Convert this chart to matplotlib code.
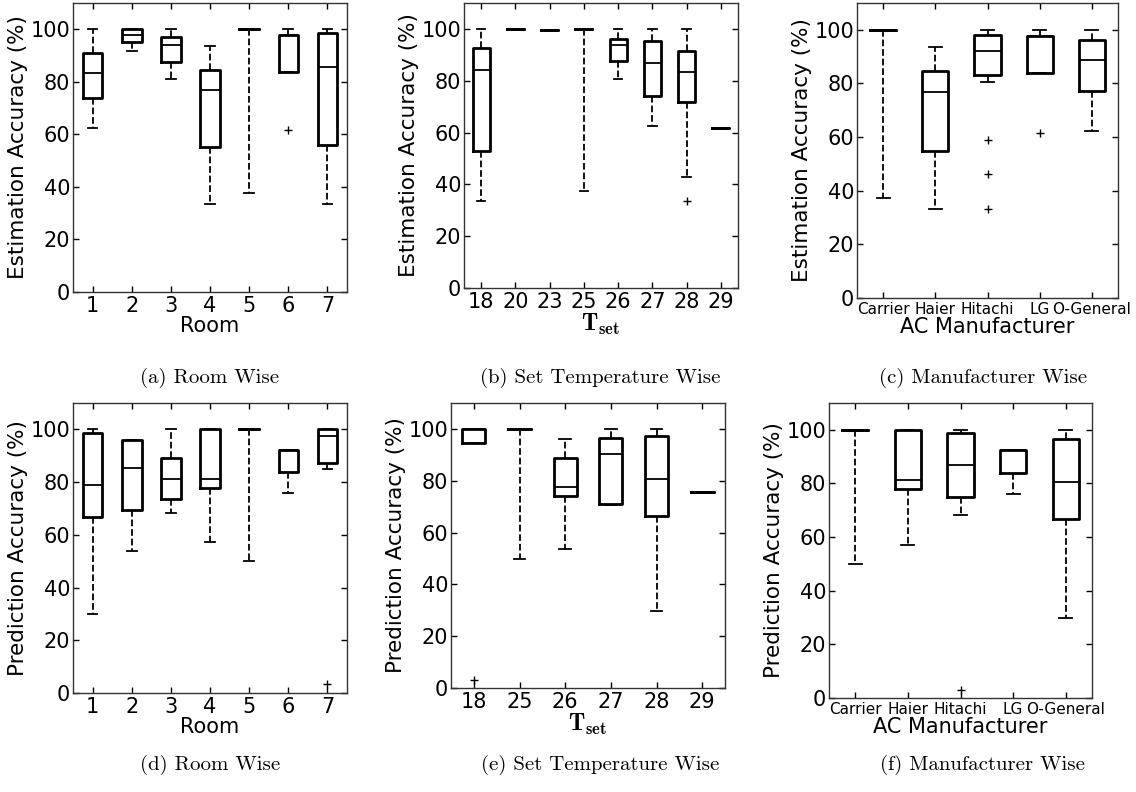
import matplotlib
matplotlib.use('Agg')
import matplotlib.pyplot as plt

plt.rcParams['mathtext.fontset'] = 'cm'
plt.rcParams['font.family'] = ['DejaVu Sans']

# ---- 数据 ----
rooms = ['1', '2', '3', '4', '5', '6', '7']
tsets_est = ['18', '20', '23', '25', '26', '27', '28', '29']
tsets_pred = ['18', '25', '26', '27', '28', '29']
makers = ['Carrier', 'Haier', 'Hitachi', 'LG', 'O-General']

# (a) Room wise - estimation
a_whislo = [62.5, 91.9, 80.9, 33.4, 37.6, 83.9, 33.4]
a_q1 = [73.9, 95.2, 87.6, 55.1, 100, 83.9, 55.9]
a_med = [83.2, 98.0, 94.2, 77.0, 100, 97.8, 85.7]
a_q3 = [91.1, 100, 97.0, 84.6, 100, 97.8, 98.6]
a_whishi = [100, 100, 100, 93.7, 100, 100, 100]
a_fliers = [[], [], [], [], [], [61.6], []]

# (b) Set temperature wise - estimation
b_whislo = [33.4, 100, 99.4, 37.6, 80.7, 62.5, 43.0, 61.7]
b_q1 = [52.9, 100, 99.4, 100, 87.7, 74.1, 71.9, 61.7]
b_med = [84.2, 100, 99.4, 100, 93.6, 86.9, 83.4, 61.7]
b_q3 = [92.7, 100, 99.4, 100, 96.0, 95.5, 91.4, 61.7]
b_whishi = [100, 100, 99.4, 100, 100, 100, 100, 61.7]
b_fliers = [[], [], [], [], [], [], [33.4], []]

# (c) Manufacturer wise - estimation
c_whislo = [37.4, 33.3, 80.7, 84.0, 62.4]
c_q1 = [100, 54.9, 83.1, 84.0, 77.3]
c_med = [100, 77.0, 92.0, 97.8, 88.6]
c_q3 = [100, 84.5, 98.0, 97.8, 96.3]
c_whishi = [100, 93.7, 100, 100, 100]
c_fliers = [[], [], [59.0, 46.3, 33.2], [61.6], []]

# (d) Room wise - prediction
d_whislo = [29.9, 53.7, 68.4, 57.1, 50.0, 75.8, 84.8]
d_q1 = [66.8, 69.6, 73.6, 77.8, 100, 84.0, 87.2]
d_med = [78.9, 85.4, 81.1, 81.2, 100, 92.2, 97.3]
d_q3 = [98.5, 96.0, 89.3, 100, 100, 92.2, 100]
d_whishi = [100, 96.0, 100, 100, 100, 92.2, 100]
d_fliers = [[], [], [], [], [], [], [3.4]]

# (e) Set temperature wise - prediction
e_whislo = [94.7, 49.9, 53.5, 70.6, 29.9, 75.7]
e_q1 = [94.7, 100, 74.2, 71.2, 66.5, 75.7]
e_med = [100, 100, 77.4, 90.4, 80.6, 75.7]
e_q3 = [100, 100, 88.9, 96.5, 97.4, 75.7]
e_whishi = [100, 100, 96.0, 100, 100, 75.7]
e_fliers = [[3.0], [], [], [], [], []]

# (f) Manufacturer wise - prediction
f_whislo = [49.9, 57.1, 68.4, 75.9, 29.9]
f_q1 = [100, 77.8, 75.0, 83.9, 66.6]
f_med = [100, 81.4, 87.0, 92.3, 80.6]
f_q3 = [100, 100, 98.8, 92.3, 96.4]
f_whishi = [100, 100, 100, 92.3, 100]
f_fliers = [[], [], [3.1], [], []]


def make_stats(labels, whislo, q1, med, q3, whishi, fliers):
    stats = []
    for i in range(len(labels)):
        stats.append(dict(label=labels[i], whislo=whislo[i], q1=q1[i], med=med[i],
                          q3=q3[i], whishi=whishi[i], fliers=fliers[i]))
    return stats


def draw_box(ax, stats, xlabel, ylabel, tick_size=15, xlabel_size=15):
    ax.bxp(stats, widths=0.5, showfliers=True,
           boxprops=dict(color='black', linewidth=2),
           medianprops=dict(color='black', linewidth=1.3),
           whiskerprops=dict(color='black', linewidth=1.3, linestyle='--'),
           capprops=dict(color='black', linewidth=1.3),
           flierprops=dict(marker='+', markeredgecolor='black', markersize=6, linestyle='none'))
    ax.set_ylim(0, 110)
    ax.set_xlim(0.5, len(stats) + 0.5)
    ax.set_yticks([0, 20, 40, 60, 80, 100])
    ax.tick_params(direction='in', top=True, right=True, length=4, width=1)
    ax.tick_params(axis='x', labelsize=tick_size, pad=3)
    ax.tick_params(axis='y', labelsize=15, pad=2)
    ax.set_ylabel(ylabel, fontsize=15.5, labelpad=2)
    ax.set_xlabel(xlabel, fontsize=xlabel_size, labelpad=0)
    for s in ax.spines.values():
        s.set_linewidth(1)
        s.set_color('#333333')


W, H = 1136, 792
fig = plt.figure(figsize=(W / 100, H / 100), dpi=100)


def axes_px(left, right, top, bottom):
    return fig.add_axes([left / W, 1 - bottom / H, (right - left) / W, (bottom - top) / H])


tset_label = r'$\mathbf{T}_{\mathbf{set}}$'

ax = axes_px(73, 347, 3, 292)
draw_box(ax, make_stats(rooms, a_whislo, a_q1, a_med, a_q3, a_whishi, a_fliers), 'Room', 'Estimation Accuracy (%)')
ax = axes_px(464, 738, 3, 288)
draw_box(ax, make_stats(tsets_est, b_whislo, b_q1, b_med, b_q3, b_whishi, b_fliers), tset_label, 'Estimation Accuracy (%)', xlabel_size=17)
ax = axes_px(857, 1118, 3, 298)
draw_box(ax, make_stats(makers, c_whislo, c_q1, c_med, c_q3, c_whishi, c_fliers), 'AC Manufacturer', 'Estimation Accuracy (%)', tick_size=11)

ax = axes_px(73, 347, 403, 693)
draw_box(ax, make_stats(rooms, d_whislo, d_q1, d_med, d_q3, d_whishi, d_fliers), 'Room', 'Prediction Accuracy (%)')
ax = axes_px(451, 725, 403, 688)
draw_box(ax, make_stats(tsets_pred, e_whislo, e_q1, e_med, e_q3, e_whishi, e_fliers), tset_label, 'Prediction Accuracy (%)', xlabel_size=17)
ax = axes_px(829, 1092, 403, 698)
draw_box(ax, make_stats(makers, f_whislo, f_q1, f_med, f_q3, f_whishi, f_fliers), 'AC Manufacturer', 'Prediction Accuracy (%)', tick_size=11)

# 子图标题
captions = [('(a) Room Wise', 210, 378), ('(b) Set Temperature Wise', 600, 378), ('(c) Manufacturer Wise', 983, 378),
            ('(d) Room Wise', 210, 765), ('(e) Set Temperature Wise', 600, 765), ('(f) Manufacturer Wise', 983, 765)]
for text, x, y in captions:
    fig.text(x / W, 1 - y / H, text, ha='center', va='center', fontsize=15, family='cmr10')

plt.savefig('out.png', dpi=100)
